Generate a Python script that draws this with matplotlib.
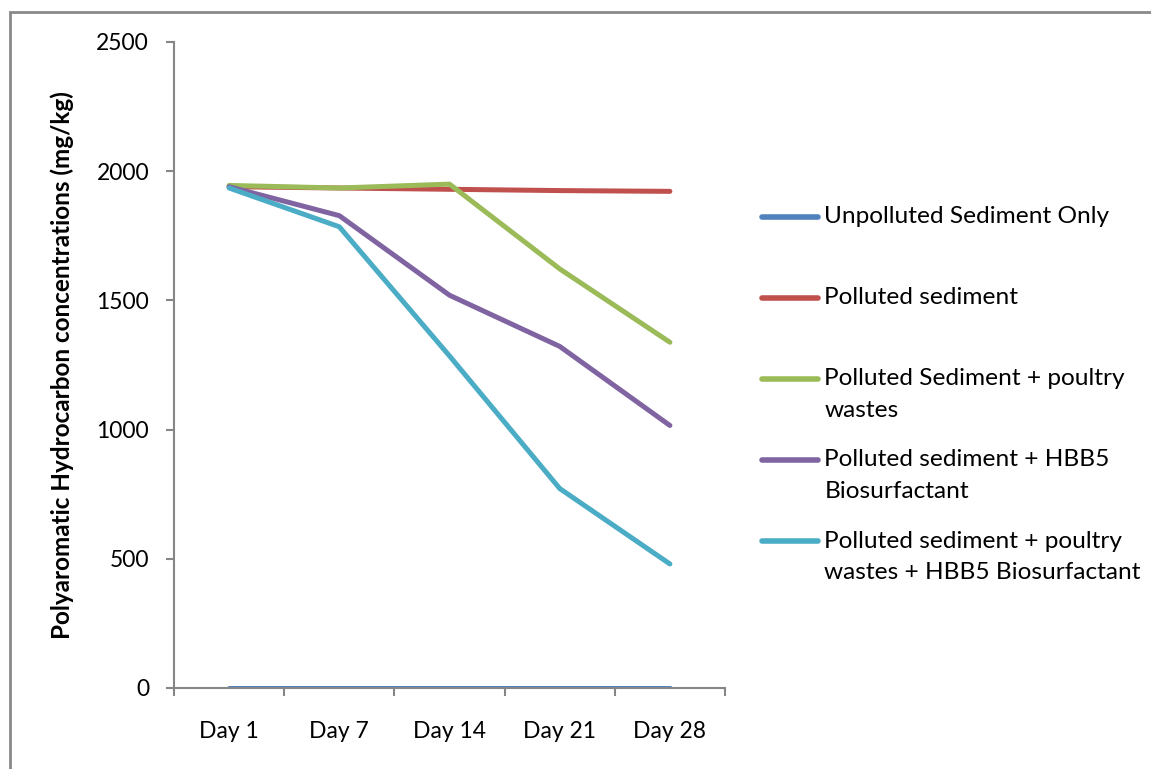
import matplotlib
matplotlib.use("Agg")
import matplotlib.pyplot as plt
from matplotlib.legend_handler import HandlerLine2D
from matplotlib.patches import Rectangle

plt.rcParams['font.family'] = ['Lato', 'DejaVu Sans']

days = ["Day 1", "Day 7", "Day 14", "Day 21", "Day 28"]

unpolluted = [0, 0, 0, 0, 0]
polluted = [1940, 1935, 1930, 1925, 1922]
polluted_poultry = [1945, 1935, 1950, 1622, 1338]
polluted_hbb5 = [1940, 1828, 1520, 1322, 1016]
polluted_poultry_hbb5 = [1935, 1785, 1285, 772, 480]

labels = ["Unpolluted Sediment Only",
          "Polluted sediment",
          "Polluted Sediment + poultry\nwastes",
          "Polluted sediment + HBB5\nBiosurfactant",
          "Polluted sediment + poultry\nwastes + HBB5 Biosurfactant"]
colors = ["#4F81BD", "#C0504D", "#9BBB59", "#8064A2", "#4BACC6"]
series = [unpolluted, polluted, polluted_poultry, polluted_hbb5, polluted_poultry_hbb5]

FS = 16
GRAY = "#868686"


class TopHandler(HandlerLine2D):
    # put the legend line next to the first text line
    def create_artists(self, legend, orig_handle, xdescent, ydescent,
                       width, height, fontsize, trans):
        shift = 1.25 * fontsize
        return super().create_artists(legend, orig_handle, xdescent, ydescent - shift,
                                      width, height, fontsize, trans)


fig = plt.figure(figsize=(11.51, 7.69), dpi=100)
ax = fig.add_axes([174 / 1151, 1 - 688 / 769, (725 - 174) / 1151, (688 - 42) / 769])

x = list(range(len(days)))
handles = []
for vals, c, lab in zip(series, colors, labels):
    h, = ax.plot(x, vals, color=c, lw=3.6, solid_capstyle='round', label=lab)
    handles.append(h)

ax.set_xlim(-0.5, len(days) - 0.5)
ax.set_ylim(0, 2500)
ax.set_yticks([0, 500, 1000, 1500, 2000, 2500])

# category ticks between labels, labels in the middle
ax.set_xticks([i - 0.5 for i in range(len(days) + 1)])
ax.set_xticklabels([])
ax.set_xticks(x, minor=True)
ax.set_xticklabels(days, minor=True, fontsize=FS + 0.5)
ax.tick_params(axis='x', which='minor', length=0, pad=24)
ax.tick_params(axis='x', which='major', length=6, width=1.5, color=GRAY)
ax.tick_params(axis='y', length=6, width=1.5, color=GRAY, pad=12, labelsize=FS + 0.5)

for s in ['top', 'right']:
    ax.spines[s].set_visible(False)
for s in ['left', 'bottom']:
    ax.spines[s].set_color(GRAY)
    ax.spines[s].set_linewidth(1.5)

ax.set_ylabel("Polyaromatic Hydrocarbon concentrations (mg/kg)", fontsize=FS + 1.5,
              fontweight='bold', labelpad=16)

# pad single line labels so every entry is two lines tall
leg_labels = [l if "\n" in l else l + "\n " for l in labels]
leg = fig.legend(handles, leg_labels, loc='upper left',
                 bbox_to_anchor=(762 / 1151, 1 - 206 / 769), frameon=False,
                 fontsize=FS + 1.6, handlelength=2.3, handletextpad=0.25,
                 labelspacing=1.17, borderpad=0, borderaxespad=0,
                 handler_map={h: TopHandler() for h in handles})
for t in leg.get_texts():
    t.set_linespacing(1.62)
for lh in leg.get_lines():
    lh.set_linewidth(4)

# outer chart frame
fig.patches.append(Rectangle((10 / 1151, -0.1), 1.2, 1 - 12 / 769 + 0.1,
                             transform=fig.transFigure, fill=False,
                             edgecolor="#898989", lw=2))

fig.savefig("out.png", dpi=100)
